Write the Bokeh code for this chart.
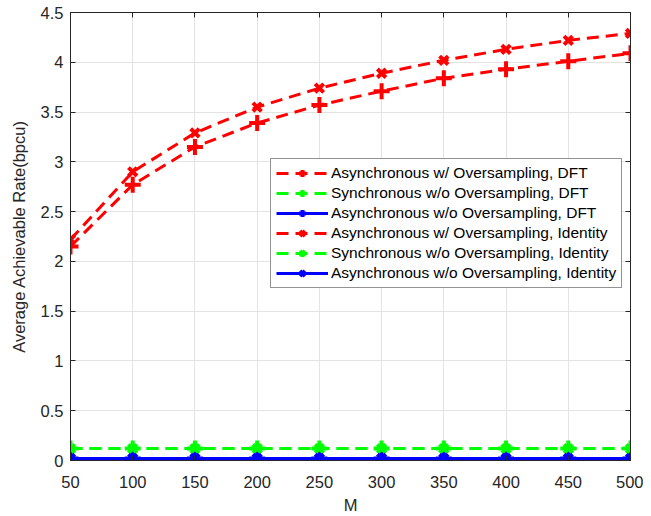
from bokeh.plotting import figure
from bokeh.models import LinearAxis, Range1d, FixedTicker, Legend, LegendItem
from bokeh.embed import file_html
from bokeh.resources import INLINE

M = [50, 100, 150, 200, 250, 300, 350, 400, 450, 500]
async_os_dft = [2.15, 2.77, 3.15, 3.39, 3.57, 3.71, 3.84, 3.93, 4.01, 4.09]
sync_nos_dft = [0.12, 0.12, 0.12, 0.12, 0.12, 0.12, 0.12, 0.12, 0.12, 0.12]
async_nos_dft = [0.02, 0.02, 0.02, 0.02, 0.02, 0.02, 0.02, 0.02, 0.02, 0.02]
async_os_id = [2.22, 2.90, 3.29, 3.55, 3.74, 3.89, 4.02, 4.13, 4.22, 4.29]
sync_nos_id = [0.12, 0.12, 0.12, 0.12, 0.12, 0.12, 0.12, 0.12, 0.12, 0.12]
async_nos_id = [0.02, 0.02, 0.02, 0.02, 0.02, 0.02, 0.02, 0.02, 0.02, 0.02]
labels = ["Asynchronous w/ Oversampling, DFT",
          "Synchronous w/o Oversampling, DFT",
          "Asynchronous w/o Oversampling, DFT",
          "Asynchronous w/ Oversampling, Identity",
          "Synchronous w/o Oversampling, Identity",
          "Asynchronous w/o Oversampling, Identity"]
x_ticks = [50, 100, 150, 200, 250, 300, 350, 400, 450, 500]
y_ticks = [0, 0.5, 1, 1.5, 2, 2.5, 3, 3.5, 4, 4.5]

FONT = "Liberation Sans"
TXT = "#262626"

p = figure(width=643, height=516, output_backend="svg", toolbar_location=None,
           x_range=Range1d(50, 500), y_range=Range1d(0, 4.5),
           min_border_left=70, min_border_right=13, min_border_top=12, min_border_bottom=56,
           x_axis_label="M", y_axis_label="Average Achievable Rate(bpcu)")
p.outline_line_color = "#262626"
p.outline_line_width = 1
p.background_fill_color = "white"

for ax, tk in ((p.xaxis[0], x_ticks), (p.yaxis[0], y_ticks)):
    ax.ticker = FixedTicker(ticks=tk)
    ax.major_label_text_font = FONT
    ax.major_label_text_font_size = "16.5px"
    ax.major_label_text_color = TXT
    ax.axis_label_text_font = FONT
    ax.axis_label_text_font_size = "16.5px"
    ax.axis_label_text_font_style = "normal"
    ax.axis_label_text_color = TXT
    ax.axis_line_color = "#262626"
    ax.major_tick_in = 5
    ax.major_tick_out = 0
    ax.minor_tick_line_color = None
    ax.major_tick_line_color = "#262626"
p.xaxis[0].axis_label_standoff = 5
p.yaxis[0].axis_label_standoff = 10
p.xaxis[0].major_label_standoff = 15
p.yaxis[0].major_label_standoff = 7

top = LinearAxis(ticker=FixedTicker(ticks=x_ticks),
                 major_label_overrides={t: "" for t in x_ticks},
                 major_tick_in=5, major_tick_out=0, minor_tick_line_color=None,
                 axis_line_color="#262626", major_tick_line_color="#262626")
right = LinearAxis(ticker=FixedTicker(ticks=y_ticks),
                   major_label_overrides={t: "" for t in y_ticks},
                   major_tick_in=5, major_tick_out=0, minor_tick_line_color=None,
                   axis_line_color="#262626", major_tick_line_color="#262626")
p.add_layout(top, "above")
p.add_layout(right, "right")

p.xgrid.ticker = FixedTicker(ticks=x_ticks)
p.ygrid.ticker = FixedTicker(ticks=y_ticks)
p.grid.grid_line_color = "#e3e3e3"
p.grid.grid_line_width = 1

series = [
    (async_os_dft, "red", "dashed", "cross"),
    (sync_nos_dft, "#00ff00", "dashed", "cross"),
    (async_nos_dft, "blue", "solid", "cross"),
    (async_os_id, "red", "dashed", "x"),
    (sync_nos_id, "#00ff00", "dashed", "x"),
    (async_nos_id, "blue", "solid", "x"),
]
items = []
for (ys, col, dash, mk), lab in zip(series, labels):
    dash_s = "12 7" if dash == "dashed" else "solid"
    r1 = p.line(M, ys, line_color=col, line_width=3, line_dash=dash_s)
    r2 = p.scatter(M, ys, marker=mk, size=16 if mk == "cross" else 12,
                   line_color=col, line_width=4, fill_color=col)
    items.append(LegendItem(label=lab, renderers=[r1, r2]))

legend = Legend(items=items, location=(200, 172))
legend.label_text_font = FONT
legend.label_text_font_size = "15.5px"
legend.label_text_color = "black"
legend.glyph_width = 52
legend.glyph_height = 18
legend.label_standoff = 3
legend.spacing = 2
legend.padding = 5
legend.margin = 0
legend.label_height = 18
legend.border_line_color = "#262626"
legend.border_line_width = 1
legend.background_fill_alpha = 1
p.add_layout(legend, "center")

open("out.html", "w").write(file_html(p, INLINE))
